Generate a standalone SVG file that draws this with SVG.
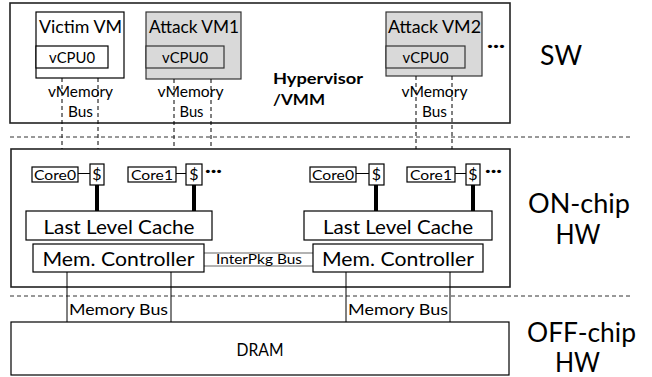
<svg xmlns="http://www.w3.org/2000/svg" width="652" height="377" viewBox="0 0 652 377">
<style>
text{font-family:Lato,"Liberation Sans",sans-serif;fill:#000;}
.box{fill:#fff;stroke:#000;stroke-width:1.2;}
.gbox{fill:#d9d9d9;stroke:#333;stroke-width:1.2;}
.big{fill:#fff;stroke:#222;stroke-width:1.6;}
.vd{stroke:#000;stroke-width:1;stroke-dasharray:4 3;fill:none;}
.hd{stroke:#333;stroke-width:1;stroke-dasharray:4 3;fill:none;}
.ln{stroke:#000;stroke-width:1;fill:none;}
.thick{stroke:#000;stroke-width:4;fill:none;}
.ip{stroke:#666;stroke-width:1.2;fill:none;}
.t16{font-size:17px;}
.t15{font-size:16px;}
.t13{font-size:14px;}
.t19{font-size:20px;}
.big28{font-size:27px;}
.m{text-anchor:middle;}
</style>
<rect width="652" height="377" fill="#fff"/>

<g id="sw">
<rect class="big" x="10" y="3" width="500" height="120"/>
<text x="273" y="84" font-size="16" font-weight="bold" textLength="90" lengthAdjust="spacingAndGlyphs">Hypervisor</text>
<text x="273" y="105" font-size="16" font-weight="bold" textLength="52" lengthAdjust="spacingAndGlyphs">/VMM</text>
<text x="487" y="52" font-size="17" font-weight="bold" textLength="18" lengthAdjust="spacingAndGlyphs">···</text>
</g>

<g id="victim-vm">
<rect class="box" x="36" y="12" width="88" height="66"/>
<text class="t16 m" x="80.5" y="33" textLength="83" lengthAdjust="spacingAndGlyphs">Victim VM</text>
<rect class="box" x="36" y="46" width="72" height="22"/>
<text class="t15 m" x="72" y="63" textLength="46" lengthAdjust="spacingAndGlyphs">vCPU0</text>
</g>

<g id="attack-vm1">
<rect class="gbox" x="146" y="12" width="95" height="67"/>
<text class="t16 m" x="194" y="33" textLength="90" lengthAdjust="spacingAndGlyphs">Attack VM1</text>
<rect class="gbox" x="146" y="46" width="78" height="22"/>
<text class="t15 m" x="185" y="63" textLength="46" lengthAdjust="spacingAndGlyphs">vCPU0</text>
</g>

<g id="attack-vm2">
<rect class="gbox" x="386" y="12" width="96" height="64"/>
<text class="t16 m" x="434.5" y="33" textLength="93" lengthAdjust="spacingAndGlyphs">Attack VM2</text>
<rect class="gbox" x="386" y="46" width="79" height="22"/>
<text class="t15 m" x="425.5" y="63" textLength="46" lengthAdjust="spacingAndGlyphs">vCPU0</text>
</g>

<g id="onchip">
<rect class="big" x="11" y="149" width="499" height="138"/>
<text x="205" y="177" font-size="17" font-weight="bold" textLength="17" lengthAdjust="spacingAndGlyphs">···</text>
<text x="485" y="177" font-size="17" font-weight="bold" textLength="17" lengthAdjust="spacingAndGlyphs">···</text>
</g>

<g id="connectors">
<line class="vd" x1="62" y1="78" x2="62" y2="149"/>
<line class="vd" x1="98" y1="78" x2="98" y2="149"/>
<line class="vd" x1="174" y1="79" x2="174" y2="149"/>
<line class="vd" x1="211" y1="79" x2="211" y2="149"/>
<line class="vd" x1="416" y1="76" x2="416" y2="149"/>
<line class="vd" x1="452" y1="76" x2="452" y2="149"/>
<line class="hd" x1="10" y1="137" x2="633" y2="137"/>
<line class="hd" x1="10" y1="296" x2="633" y2="296"/>
<line class="ln" x1="78" y1="173.5" x2="90" y2="173.5"/>
<line class="ln" x1="176" y1="173.5" x2="186" y2="173.5"/>
<line class="ln" x1="356" y1="173.5" x2="369" y2="173.5"/>
<line class="ln" x1="455" y1="173.5" x2="466" y2="173.5"/>
<line class="thick" x1="97" y1="185" x2="97" y2="211"/>
<line class="thick" x1="194" y1="185" x2="194" y2="211"/>
<line class="thick" x1="376" y1="185" x2="376" y2="211"/>
<line class="thick" x1="473" y1="185" x2="473" y2="211"/>
<line class="ip" x1="204" y1="253" x2="313" y2="253"/>
<line class="ip" x1="204" y1="266" x2="313" y2="266"/>
<line class="ln" x1="67" y1="272" x2="67" y2="322"/>
<line class="ln" x1="171" y1="272" x2="171" y2="322"/>
<line class="ln" x1="346" y1="272" x2="346" y2="322"/>
<line class="ln" x1="450" y1="272" x2="450" y2="322"/>
<text class="t15 m" x="80.5" y="97" textLength="65" lengthAdjust="spacingAndGlyphs">vMemory</text>
<text class="t15 m" x="80.5" y="117" textLength="25" lengthAdjust="spacingAndGlyphs">Bus</text>
<text class="t15 m" x="190.5" y="97" textLength="66" lengthAdjust="spacingAndGlyphs">vMemory</text>
<text class="t15 m" x="191.5" y="117" textLength="24" lengthAdjust="spacingAndGlyphs">Bus</text>
<text class="t15 m" x="434.5" y="97" textLength="66" lengthAdjust="spacingAndGlyphs">vMemory</text>
<text class="t15 m" x="434.5" y="117" textLength="25" lengthAdjust="spacingAndGlyphs">Bus</text>
<text class="t13 m" x="259" y="264" textLength="86" lengthAdjust="spacingAndGlyphs">InterPkg Bus</text>
<text class="t15 m" x="118.5" y="315" textLength="99" lengthAdjust="spacingAndGlyphs">Memory Bus</text>
<text class="t15 m" x="398" y="315" textLength="100" lengthAdjust="spacingAndGlyphs">Memory Bus</text>
</g>

<g id="core0-a">
<rect class="box" x="32" y="167" width="46" height="15"/>
<text class="t13 m" x="55" y="180" textLength="42" lengthAdjust="spacingAndGlyphs">Core0</text>
</g>
<g id="cache0-a">
<rect class="box" x="90" y="164" width="14" height="21"/>
<text class="t15 m" x="97" y="180">$</text>
</g>
<g id="core1-a">
<rect class="box" x="128" y="167" width="48" height="15"/>
<text class="t13 m" x="152" y="180" textLength="42" lengthAdjust="spacingAndGlyphs">Core1</text>
</g>
<g id="cache1-a">
<rect class="box" x="186" y="164" width="16" height="21"/>
<text class="t15 m" x="194" y="180">$</text>
</g>
<g id="core0-b">
<rect class="box" x="310" y="167" width="46" height="15"/>
<text class="t13 m" x="333" y="180" textLength="42" lengthAdjust="spacingAndGlyphs">Core0</text>
</g>
<g id="cache0-b">
<rect class="box" x="369" y="164" width="15" height="21"/>
<text class="t15 m" x="376.5" y="180">$</text>
</g>
<g id="core1-b">
<rect class="box" x="407" y="167" width="48" height="15"/>
<text class="t13 m" x="431" y="180" textLength="42" lengthAdjust="spacingAndGlyphs">Core1</text>
</g>
<g id="cache1-b">
<rect class="box" x="466" y="164" width="14" height="21"/>
<text class="t15 m" x="473" y="180">$</text>
</g>

<g id="llc-a">
<rect class="box" x="26" y="211" width="186" height="29"/>
<text class="t19 m" x="119" y="234" textLength="151" lengthAdjust="spacingAndGlyphs">Last Level Cache</text>
</g>
<g id="llc-b">
<rect class="box" x="304" y="211" width="188" height="29"/>
<text class="t19 m" x="398" y="234" textLength="150" lengthAdjust="spacingAndGlyphs">Last Level Cache</text>
</g>
<g id="mc-a">
<rect class="box" x="33" y="244" width="171" height="28"/>
<text class="t19 m" x="118.5" y="266" textLength="152" lengthAdjust="spacingAndGlyphs">Mem. Controller</text>
</g>
<g id="mc-b">
<rect class="box" x="313" y="244" width="170" height="28"/>
<text class="t19 m" x="398" y="266" textLength="152" lengthAdjust="spacingAndGlyphs">Mem. Controller</text>
</g>

<g id="dram">
<rect class="box" x="11" y="322" width="498" height="53"/>
<text class="m" font-size="18" x="260" y="356" textLength="47" lengthAdjust="spacingAndGlyphs">DRAM</text>
</g>

<g id="labels">
<text class="big28 m" x="561" y="65" textLength="42" lengthAdjust="spacingAndGlyphs">SW</text>
<text class="big28 m" x="579" y="213" textLength="102" lengthAdjust="spacingAndGlyphs">ON-chip</text>
<text class="big28 m" x="578" y="244" textLength="45" lengthAdjust="spacingAndGlyphs">HW</text>
<text class="big28 m" x="581.5" y="342" textLength="109" lengthAdjust="spacingAndGlyphs">OFF-chip</text>
<text class="big28 m" x="577.5" y="372" textLength="45" lengthAdjust="spacingAndGlyphs">HW</text>
</g>
</svg>
